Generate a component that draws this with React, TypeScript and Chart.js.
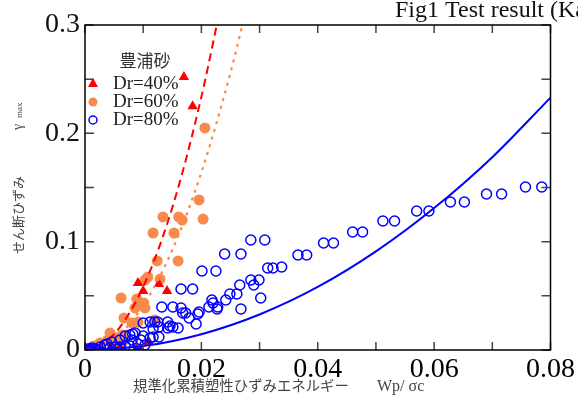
import React, { useEffect, useRef } from 'react';
import { Chart, registerables } from 'chart.js';
Chart.register(...registerables);

// Dr=40% (red triangles)
const dr40X = [0.0170, 0.0185, 0.0091, 0.0127, 0.0100, 0.0141, 0.0089, 0.0110, 0.0060, 0.0026, 0.0009, 0.0043];
const dr40Y = [0.252, 0.225, 0.0618, 0.0609, 0.0545, 0.0545, 0.001, 0.0074, 0.0028, 0.0018, 0.0009, 0.0018];

// Dr=60% (orange filled circles)
const dr60X = [0.0206, 0.0196, 0.0134, 0.0161, 0.0167, 0.0203, 0.0117, 0.0153, 0.0124, 0.0160, 0.0108, 0.0103, 0.0129, 0.0062, 0.0089, 0.0101, 0.0086, 0.0103, 0.0067, 0.0091, 0.0081, 0.0120, 0.0043, 0.0064, 0.0048, 0.0039, 0.0065, 0.0026, 0.0015, 0.0009, 0.0052];
const dr60Y = [0.205, 0.1385, 0.1228, 0.1228, 0.120, 0.1209, 0.108, 0.108, 0.0822, 0.0822, 0.0674, 0.0646, 0.0655, 0.048, 0.0471, 0.0434, 0.0388, 0.0388, 0.0295, 0.0258, 0.0249, 0.0277, 0.0157, 0.0138, 0.012, 0.0092, 0.0074, 0.0065, 0.0037, 0.0018, 0.0046];

// Dr=80% (blue open circles)
const dr80X = [0.0785, 0.0757, 0.0716, 0.0690, 0.0652, 0.0628, 0.0591, 0.0570, 0.0532, 0.0512, 0.0477, 0.0460, 0.0427, 0.0410, 0.0381, 0.0366, 0.0309, 0.0285, 0.0268, 0.0240, 0.0225, 0.0201, 0.0338, 0.0323, 0.0314, 0.0299, 0.0285, 0.0290, 0.0266, 0.0261, 0.0249, 0.0302, 0.0242, 0.0218, 0.0220, 0.0213, 0.0228, 0.0227, 0.0268, 0.0185, 0.0165, 0.0151, 0.0132, 0.0165, 0.0173, 0.0168, 0.0179, 0.0196, 0.0194, 0.0191, 0.0142, 0.0120, 0.0125, 0.0112, 0.0100, 0.0146, 0.0151, 0.0160, 0.0142, 0.0117, 0.0127, 0.0127, 0.0117, 0.0100, 0.0096, 0.0112, 0.0086, 0.0082, 0.0069, 0.0077, 0.0060, 0.0081, 0.0046, 0.0038, 0.0026, 0.0034, 0.0012, 0.0000, 0.0005, 0.0017, 0.0043, 0.0052, 0.0060, 0.0069, 0.0077, 0.0091, 0.0103, 0.0009, 0.0021];
const dr80Y = [0.1505, 0.1505, 0.144, 0.144, 0.1366, 0.1366, 0.1283, 0.1283, 0.1191, 0.1191, 0.1089, 0.1089, 0.0988, 0.0988, 0.0877, 0.0877, 0.1015, 0.1015, 0.0886, 0.0886, 0.0729, 0.0729, 0.0766, 0.0757, 0.0757, 0.0646, 0.0646, 0.060, 0.060, 0.0517, 0.0517, 0.048, 0.0462, 0.0462, 0.0434, 0.0397, 0.0397, 0.0378, 0.0378, 0.0563, 0.0563, 0.0397, 0.0397, 0.0388, 0.0342, 0.0342, 0.0295, 0.0351, 0.0332, 0.024, 0.0258, 0.0258, 0.0258, 0.0258, 0.0249, 0.0222, 0.0212, 0.0203, 0.0203, 0.0194, 0.0212, 0.012, 0.012, 0.0129, 0.0092, 0.0111, 0.0157, 0.0148, 0.0129, 0.0138, 0.0092, 0.0092, 0.0074, 0.0055, 0.0028, 0.0046, 0.0018, 0.0, 0.0009, 0.0009, 0.0018, 0.0028, 0.0028, 0.0037, 0.0037, 0.0055, 0.0046, 0.0, 0.0];

// Fitted curves
const fit40X = [0, 0.004, 0.008, 0.012, 0.016, 0.020, 0.023];
const fit40Y = [0, 0.0093, 0.0374, 0.0841, 0.1495, 0.2336, 0.309];
const fit60X = [0, 0.005, 0.010, 0.015, 0.020, 0.025, 0.0275];
const fit60Y = [0, 0.0103, 0.041, 0.0923, 0.164, 0.256, 0.31];
const fit80X = [0, 0.01, 0.02, 0.03, 0.04, 0.05, 0.06, 0.07, 0.08];
const fit80Y = [0, 0.0036, 0.0146, 0.0328, 0.0582, 0.091, 0.131, 0.178, 0.233];

const legendTitle = '豊浦砂';
const legendLabels = ['Dr=40%', 'Dr=60%', 'Dr=80%'];
const chartTitle = 'Fig1 Test result (Kato et al.)';
const xTitleJa = '規準化累積塑性ひずみエネルギー';
const xTitleSym = 'Wp/ σc';
const yTitleJa = 'せん断ひずみ';

const RED = '#ff0000';
const ORANGE = '#f98a4b';
const BLUE = '#0000ff';

const pts = (xs: number[], ys: number[]) => xs.map((x, i) => ({ x, y: ys[i] }));

const decorPlugin = {
  id: 'decor',
  afterDraw(chart: any) {
    const { ctx, chartArea } = chart;
    const { left, right, top, bottom } = chartArea;
    const xs = chart.scales.x;
    const ys = chart.scales.y;
    ctx.save();
    // inward ticks
    ctx.strokeStyle = '#444';
    ctx.lineWidth = 1.5;
    ctx.beginPath();
    xs.ticks.forEach((t: any) => {
      const px = xs.getPixelForValue(t.value);
      ctx.moveTo(px, bottom); ctx.lineTo(px, bottom - 8);
      ctx.moveTo(px, top); ctx.lineTo(px, top + 8);
    });
    ys.ticks.forEach((t: any) => {
      const py = ys.getPixelForValue(t.value);
      ctx.moveTo(left, py); ctx.lineTo(left + 9, py);
      ctx.moveTo(right, py); ctx.lineTo(right - 9, py);
    });
    ctx.stroke();
    // frame
    ctx.strokeStyle = '#000';
    ctx.lineWidth = 1.5;
    ctx.strokeRect(left, top, right - left, bottom - top);

    // title
    ctx.fillStyle = '#111';
    ctx.font = '24px "Liberation Serif"';
    ctx.textBaseline = 'alphabetic';
    ctx.textAlign = 'left';
    ctx.fillText(chartTitle, 395, 17);

    // x title
    ctx.fillStyle = '#444';
    ctx.font = '14.4px "Noto Sans CJK JP"';
    ctx.textBaseline = 'middle';
    ctx.fillText(xTitleJa, 133, 386);
    ctx.font = '16px "Liberation Serif"';
    ctx.fillText(xTitleSym, 377, 387);

    // y title (rotated)
    ctx.save();
    ctx.translate(18, 254);
    ctx.rotate(-Math.PI / 2);
    ctx.font = '13px "Noto Sans CJK JP"';
    ctx.textBaseline = 'middle';
    ctx.textAlign = 'left';
    ctx.fillText(yTitleJa, 0, 0);
    ctx.font = '14px "Liberation Serif"';
    ctx.fillText('γ', 124, 0);
    ctx.font = '9px "Liberation Serif"';
    ctx.fillText('max', 136, 2);
    ctx.restore();

    // legend
    ctx.fillStyle = '#333';
    ctx.font = '17px "Noto Sans CJK JP"';
    ctx.textAlign = 'center';
    ctx.textBaseline = 'middle';
    ctx.fillText(legendTitle, 145, 61);
    ctx.textAlign = 'left';
    ctx.font = '19px "Liberation Serif"';
    ctx.fillStyle = '#222';
    const rows = [84, 102, 120];
    legendLabels.forEach((l, i) => ctx.fillText(l, 113, rows[i]));
    // markers
    ctx.fillStyle = RED;
    ctx.beginPath();
    ctx.moveTo(93, rows[0] - 6); ctx.lineTo(98, rows[0] + 3); ctx.lineTo(88, rows[0] + 3); ctx.closePath();
    ctx.fill();
    ctx.fillStyle = ORANGE;
    ctx.beginPath(); ctx.arc(93, rows[1], 4.5, 0, Math.PI * 2); ctx.fill();
    ctx.strokeStyle = BLUE; ctx.lineWidth = 1.5;
    ctx.beginPath(); ctx.arc(93, rows[2], 4, 0, Math.PI * 2); ctx.stroke();
    ctx.restore();
  },
};

export default function App() {
  const ref = useRef<HTMLCanvasElement>(null);
  useEffect(() => {
    if (!ref.current) return;
    const chart = new Chart(ref.current, {
      type: 'scatter',
      data: {
        datasets: [
          { label: 'fit40', data: pts(fit40X, fit40Y), showLine: true, borderColor: RED, borderWidth: 2, borderDash: [8, 5], pointRadius: 0, tension: 0.4, cubicInterpolationMode: 'monotone', order: 3 } as any,
          { label: 'fit60', data: pts(fit60X, fit60Y), showLine: true, borderColor: ORANGE, borderWidth: 2.2, borderDash: [3, 5], pointRadius: 0, tension: 0.4, cubicInterpolationMode: 'monotone', order: 3 } as any,
          { label: 'fit80', data: pts(fit80X, fit80Y), showLine: true, borderColor: BLUE, borderWidth: 2, pointRadius: 0, tension: 0.4, cubicInterpolationMode: 'monotone', order: 2 } as any,
          { label: legendLabels[1], data: pts(dr60X, dr60Y), pointStyle: 'circle', pointRadius: 5.5, backgroundColor: ORANGE, borderColor: ORANGE, borderWidth: 0, order: 5 },
          { label: legendLabels[0], data: pts(dr40X, dr40Y), pointStyle: 'triangle', pointRadius: 6, backgroundColor: RED, borderColor: RED, borderWidth: 0, order: 4 },
          { label: legendLabels[2], data: pts(dr80X, dr80Y), pointStyle: 'circle', pointRadius: 5, backgroundColor: 'rgba(0,0,0,0)', borderColor: BLUE, borderWidth: 1.5, order: 1 },
        ],
      },
      options: {
        animation: false,
        responsive: false,
        devicePixelRatio: 1,
        layout: { padding: { top: 25, right: 26, left: 0, bottom: 0 } },
        plugins: { legend: { display: false }, tooltip: { enabled: false }, title: { display: false } },
        scales: {
          x: {
            type: 'linear', min: 0, max: 0.08,
            grid: { display: false, drawTicks: false },
            border: { display: false },
            ticks: {
              stepSize: 0.01, autoSkip: false, maxRotation: 0, padding: 3,
              color: '#000',
              font: { family: 'Liberation Serif', size: 28 },
              callback: (v: any) => {
                const r = Math.round(Number(v) * 100);
                if (r % 2 !== 0) return '';
                return r === 0 ? '0' : (r / 100).toFixed(2);
              },
            },
            afterFit: (s: any) => { s.height = 53; },
          },
          y: {
            type: 'linear', min: 0, max: 0.3,
            grid: { display: false, drawTicks: false },
            border: { display: false },
            ticks: {
              stepSize: 0.05, autoSkip: false, padding: 5,
              color: '#111',
              font: { family: 'Liberation Serif', size: 28 },
              callback: (v: any) => {
                const r = Math.round(Number(v) * 20);
                if (r % 2 !== 0) return '';
                return r === 0 ? '0' : (r / 20).toFixed(1);
              },
            },
            afterFit: (s: any) => { s.width = 85; },
          },
        },
      },
      plugins: [decorPlugin],
    });
    return () => chart.destroy();
  }, []);
  return (
    <div style={{ position: 'absolute', left: 0, top: 0, width: 578, height: 403, background: '#fff', overflow: 'hidden' }}>
      <canvas ref={ref} width={578} height={403} style={{ display: 'block' }} />
    </div>
  );
}
